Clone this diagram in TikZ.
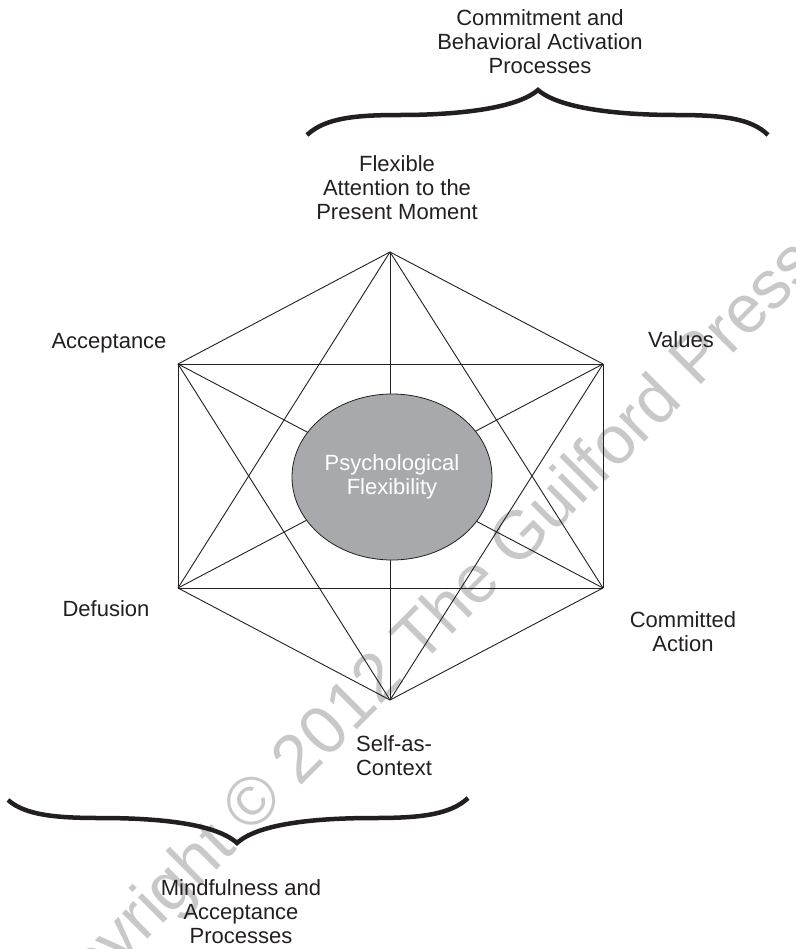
\documentclass[tikz,border=0pt]{standalone}
\usepackage{fontspec}
\setmainfont{Liberation Sans}
\usetikzlibrary{shapes.geometric}
\definecolor{figink}{HTML}{231F20}
\definecolor{figcore}{HTML}{A7A9AC}
\definecolor{figmark}{HTML}{C8C8C8}
\newcommand{\lblsize}{\fontsize{22bp}{24bp}\selectfont}
\newcommand{\marksize}{\fontsize{68bp}{72bp}\selectfont}

\begin{document}
\begin{tikzpicture}[x=1bp,y=-1bp,
  lbl/.style={font=\lblsize,text=figink,align=center,inner sep=0pt,anchor=base},
  edge/.style={figink,line width=0.9bp},
  brace/.style={figink,line width=4.5bp},
  core/.style={ellipse,draw=figink,fill=figcore,line width=0.8bp,minimum width=200bp,minimum height=166bp,inner sep=0pt,font=\lblsize,text=white,align=center}]
\useasboundingbox (0,0) rectangle (796,949);
% watermark, behind everything
\begin{scope}
\clip (0,0) rectangle (796,949);
\node[font=\marksize,text=figmark,rotate=45,inner sep=0pt] (mark) at (414,648) {Copyright © 2012 The Guilford Press};
\end{scope}
% hexagon corners
\coordinate (pT) at (390,252);
\coordinate (pUR) at (603,364);
\coordinate (pLR) at (603,588);
\coordinate (pB) at (390,700);
\coordinate (pLL) at (178,588);
\coordinate (pUL) at (178,364);
% every corner joined to every other one
\foreach \a/\b in {pT/pUR,pUR/pLR,pLR/pB,pB/pLL,pLL/pUL,pUL/pT,
                   pT/pLR,pT/pLL,pB/pUL,pB/pUR,pUL/pUR,pLL/pLR,
                   pT/pB,pUL/pLR,pUR/pLL}
  \draw[edge] (\a) -- (\b);
\node[core] (flex) at (392,477) {Psychological\\Flexibility};
% process labels (base = last line)
\node[lbl] (present) at (397,219) {Flexible\\Attention to the\\Present Moment};
\node[lbl] (accept) at (109,348) {Acceptance};
\node[lbl] (values) at (681,347) {Values};
\node[lbl] (defus) at (106,616) {Defusion};
\node[lbl] (commit) at (683,651) {Committed\\Action};
\node[lbl] (self) at (394,775) {Self-as-\\Context};
% braces and group titles
\draw[brace] (307,135) .. controls (325,118) and (355,115) .. (400,115)
  .. controls (450,115) and (515,110) .. (538,90)
  .. controls (561,110) and (626,115) .. (676,115)
  .. controls (721,115) and (751,118) .. (768,135);
\node[lbl] (cba) at (540,73) {Commitment and\\Behavioral Activation\\Processes};
\draw[brace] (8,800) .. controls (25,815) and (55,818) .. (100,818)
  .. controls (150,818) and (214,822) .. (237,843)
  .. controls (260,822) and (324,818) .. (374,818)
  .. controls (419,818) and (450,815) .. (468,798);
\node[lbl] (mindful) at (241,943) {Mindfulness and\\Acceptance\\Processes};
\end{tikzpicture}
\end{document}
